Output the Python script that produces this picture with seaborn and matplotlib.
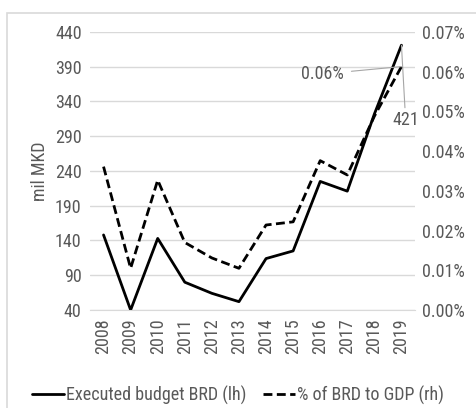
import numpy as np
import pandas as pd
import seaborn as sns
import matplotlib.pyplot as plt
from matplotlib.lines import Line2D
from matplotlib.patches import Rectangle
from matplotlib import font_manager

years = ["2008", "2009", "2010", "2011", "2012", "2013",
         "2014", "2015", "2016", "2017", "2018", "2019"]
budget = [148, 40, 143, 80, 64, 52, 114, 125, 225, 211, 322, 421]
share = [0.0361, 0.0105, 0.0327, 0.0170, 0.0131, 0.0105,
         0.0214, 0.0222, 0.0376, 0.0340, 0.0488, 0.0613]
left_ticks = [40, 90, 140, 190, 240, 290, 340, 390, 440]
right_ticks = [0.00, 0.01, 0.02, 0.03, 0.04, 0.05, 0.06, 0.07]

df = pd.DataFrame({"year": years, "budget": budget, "share": share})
df["x"] = np.arange(len(years))

sns.set_style("white")
names = {f.name for f in font_manager.fontManager.ttflist}
fam = "Liberation Sans Narrow" if "Liberation Sans Narrow" in names else "Roboto Condensed"
if fam not in names:
    fam = "Liberation Sans"
plt.rcParams["font.family"] = [fam, "DejaVu Sans"]

txt = "#595959"
grid = "#d9d9d9"
fs = 13
W, H = 476, 408

fig = plt.figure(figsize=(W / 100, H / 100), dpi=100)
ax = fig.add_axes([90 / W, 1 - 310 / H, 325 / W, 278 / H])

# chart border
fig.patches.append(Rectangle((7 / W, -0.05), 1.2, 1 - 13 / H + 0.05,
                             transform=fig.transFigure, fill=False,
                             edgecolor="#d9d9d9", linewidth=1.2))

sns.lineplot(data=df, x="x", y="budget", ax=ax, color="black", linewidth=2)
ax.set_ylim(40, 440)
ax.set_yticks(left_ticks)
ax.set_xlim(-0.5, len(years) - 0.5)
ax.set_xticks(df["x"])
ax.set_xticklabels(years, rotation=90)
ax.set_xlabel("")
ax.set_ylabel("mil MKD", fontsize=fs, color=txt, labelpad=4)
ax.yaxis.grid(True, color=grid, linewidth=1)
ax.set_axisbelow(True)
for s in ax.spines.values():
    s.set_visible(False)
ax.spines["bottom"].set_visible(True)
ax.spines["bottom"].set_color(grid)
ax.tick_params(axis="both", labelsize=fs, colors=txt, length=0, pad=6)

ax2 = ax.twinx()
sns.lineplot(data=df, x="x", y="share", ax=ax2, color="black",
             linewidth=2, linestyle=(0, (3.2, 1.6)))
ax2.set_ylim(0, 0.07)
ax2.set_yticks(right_ticks)
ax2.set_yticklabels([f"{v:.2f}%" for v in right_ticks])
ax2.set_ylabel("")
for s in ax2.spines.values():
    s.set_visible(False)
ax2.tick_params(axis="y", labelsize=fs, colors=txt, length=0, pad=5)

# data labels with leader lines (figure pixels measured from bottom)
last = len(years) - 1
ax2.annotate(f"{share[-1]:.2f}%", xy=(last, share[-1]), xytext=(344, H - 74),
             textcoords="figure pixels", fontsize=fs, color=txt,
             ha="right", va="center",
             arrowprops=dict(arrowstyle="-", color="#a6a6a6", lw=0.8,
                             shrinkA=3, shrinkB=0))
ax.annotate(f"{budget[-1]}", xy=(last, budget[-1]), xytext=(419, H - 120),
            textcoords="figure pixels", fontsize=fs, color=txt,
            ha="right", va="center",
            arrowprops=dict(arrowstyle="-", color="#a6a6a6", lw=0.8,
                            shrinkA=0, shrinkB=0))

handles = [Line2D([], [], color="black", lw=2),
           Line2D([], [], color="black", lw=2, linestyle=(0, (3.2, 1.6)))]
fig.legend(handles, ["Executed budget BRD (lh)", "% of BRD to GDP (rh)"],
           loc="center", bbox_to_anchor=(0.5, 1 - 395 / H), ncol=2,
           frameon=False, fontsize=fs, labelcolor=txt, handlelength=1.8,
           handletextpad=0.1, columnspacing=0.9)

fig.savefig("out.png", dpi=100)
